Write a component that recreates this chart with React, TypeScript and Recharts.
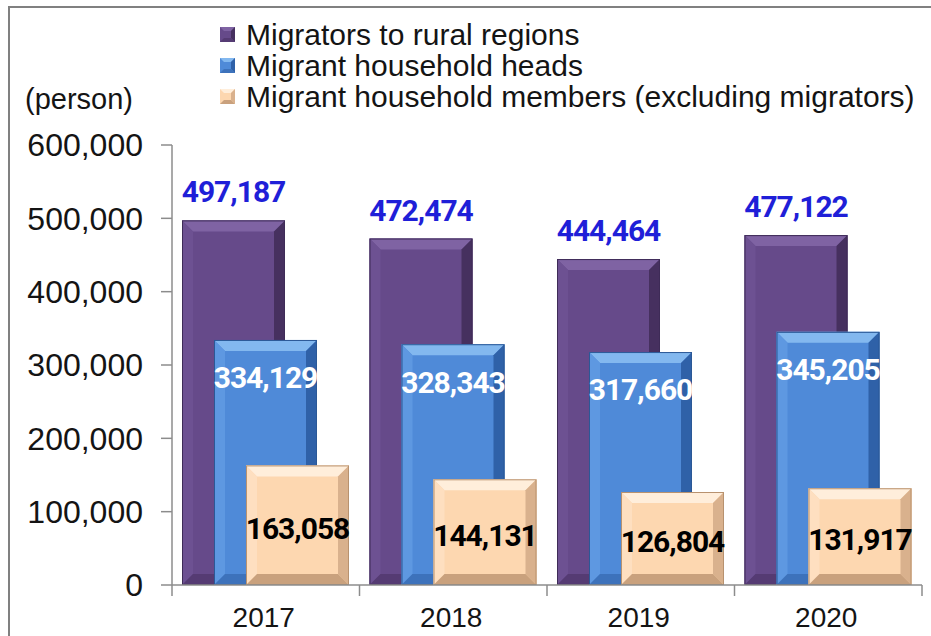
import { BarChart, Bar, XAxis, YAxis, Legend, LabelList, Label } from 'recharts';

const years = ['2017', '2018', '2019', '2020'];
const migrators = [497187, 472474, 444464, 477122];
const householdHeads = [334129, 328343, 317660, 345205];
const householdMembers = [163058, 144131, 126804, 131917];
const yTicks = [0, 100000, 200000, 300000, 400000, 500000, 600000];
const seriesNames = [
  'Migrators to rural regions',
  'Migrant household heads',
  'Migrant household members (excluding migrators)',
];

const data = years.map((year, i) => ({
  year,
  migrators: migrators[i],
  heads: householdHeads[i],
  members: householdMembers[i],
}));

const FONT = '"Liberation Sans", Arial, sans-serif';
const LABEL_FONT = 'Roboto, "Liberation Sans", sans-serif';
const AXIS = '#8c8c8c';
const TEXT = '#141414';

type Palette = { face: string; top: string; left: string; right: string; bottom: string; edge: string };

const purple: Palette = { face: '#664a8a', top: '#7f63a3', left: '#6d5192', right: '#46305f', bottom: '#553b73', edge: '#3e2b57' };
const blue: Palette = { face: '#4f8ad8', top: '#83b8ef', left: '#5e98e1', right: '#2f61a8', bottom: '#3d72bb', edge: '#2b5896' };
const peach: Palette = { face: '#fdd7b0', top: '#ffeedb', left: '#fedfc0', right: '#d9b18d', bottom: '#c9a17d', edge: '#b8926f' };
const palettes = [purple, blue, peach];

const fmt = (v: any) => Number(v).toLocaleString('en-US');

function bevelShape(p: Palette, b = 11) {
  return (props: any) => {
    const { x, y, width: w, height: h } = props;
    if (!h || h <= 0) return <g />;
    const d = Math.min(b, w / 4, h / 4);
    return (
      <g>
        <rect x={x} y={y} width={w} height={h} fill={p.face} />
        <polygon points={`${x},${y} ${x + w},${y} ${x + w - d},${y + d} ${x + d},${y + d}`} fill={p.top} />
        <polygon points={`${x},${y} ${x + d},${y + d} ${x + d},${y + h - d} ${x},${y + h}`} fill={p.left} />
        <polygon points={`${x + w},${y} ${x + w},${y + h} ${x + w - d},${y + h - d} ${x + w - d},${y + d}`} fill={p.right} />
        <polygon points={`${x},${y + h} ${x + d},${y + h - d} ${x + w - d},${y + h - d} ${x + w},${y + h}`} fill={p.bottom} />
        <rect x={x + 0.5} y={y + 0.5} width={w - 1} height={h - 1} fill="none" stroke={p.edge} strokeWidth={1} />
      </g>
    );
  };
}

function LegendSwatch({ p }: { p: Palette }) {
  const s = 15;
  const d = 4;
  return (
    <svg width={s} height={s} style={{ marginRight: 11, flex: 'none' }}>
      <rect x={0} y={0} width={s} height={s} fill={p.face} />
      <polygon points={`0,0 ${s},0 ${s - d},${d} ${d},${d}`} fill={p.top} />
      <polygon points={`${s},0 ${s},${s} ${s - d},${s - d} ${s - d},${d}`} fill={p.right} />
      <polygon points={`0,${s} ${d},${s - d} ${s - d},${s - d} ${s},${s}`} fill={p.bottom} />
    </svg>
  );
}

const renderLegend = () => (
  <div style={{ fontFamily: FONT, fontSize: 30, lineHeight: '31px', color: TEXT }}>
    {seriesNames.map((name, i) => (
      <div key={name} style={{ display: 'flex', alignItems: 'center', whiteSpace: 'nowrap' }}>
        <LegendSwatch p={palettes[i]} />
        <span>{name}</span>
      </div>
    ))}
  </div>
);

const XTick = (props: any) => {
  const { x, y, payload } = props;
  const half = payload && payload.offset ? payload.offset : 93.75;
  const last = payload.value === years[years.length - 1];
  return (
    <g>
      <line x1={x - half} x2={x - half} y1={y} y2={y + 11} stroke={AXIS} strokeWidth={1.5} />
      {last && <line x1={x + half} x2={x + half} y1={y} y2={y + 11} stroke={AXIS} strokeWidth={1.5} />}
      <text x={x - 2} y={y + 42} textAnchor="middle" fontSize={28} fontFamily={FONT} fill={TEXT}>
        {payload.value}
      </text>
    </g>
  );
};

const labelStyle = { letterSpacing: '-1px' };

export default function App() {
  return (
    <div style={{ position: 'absolute', left: 0, top: 0, width: 931, height: 636, overflow: 'hidden', background: '#fff', fontFamily: FONT }}>
      <div style={{ position: 'absolute', left: 8, top: 6, width: 1000, height: 1000, border: '2px solid #808080' }} />
      <div style={{ position: 'absolute', left: 0, top: 0 }}>
        <BarChart
          width={931}
          height={636}
          data={data}
          margin={{ top: 145, right: 9, bottom: 0, left: 0 }}
          barSize={103}
          barGap={-71}
        >
          <XAxis
            dataKey="year"
            height={51}
            stroke={AXIS}
            strokeWidth={1.5}
            tickLine={false}
            tickSize={0}
            tickMargin={0}
            tick={<XTick />}
            interval={0}
          />
          <YAxis
            width={172}
            domain={[0, 600000]}
            ticks={yTicks}
            tickFormatter={fmt}
            stroke={AXIS}
            strokeWidth={1.5}
            tickSize={11}
            tickMargin={18}
            tick={{ fontSize: 32, fill: TEXT, fontFamily: FONT }}
            interval={0}
          >
            <Label
              content={() => (
                <text x={25} y={109} fontSize={29} fontFamily={FONT} fill={TEXT}>
                  (person)
                </text>
              )}
            />
          </YAxis>
          <Legend
            layout="vertical"
            align="center"
            verticalAlign="middle"
            content={renderLegend}
            wrapperStyle={{ top: 19, left: 220, width: 711 }}
          />
          <Bar dataKey="migrators" name={seriesNames[0]} fill={purple.face} shape={bevelShape(purple)} isAnimationActive={false}>
            <LabelList
              dataKey="migrators"
              position="top"
              offset={18}
              formatter={fmt}
              fill="#1f1fd8"
              fontSize={30}
              fontWeight="bold"
              fontFamily={LABEL_FONT}
              style={labelStyle}
            />
          </Bar>
          <Bar dataKey="heads" name={seriesNames[1]} fill={blue.face} shape={bevelShape(blue)} isAnimationActive={false}>
            <LabelList
              dataKey="heads"
              position="insideTop"
              offset={27}
              formatter={fmt}
              fill="#ffffff"
              fontSize={30}
              fontWeight="bold"
              fontFamily={LABEL_FONT}
              style={labelStyle}
            />
          </Bar>
          <Bar dataKey="members" name={seriesNames[2]} fill={peach.face} shape={bevelShape(peach)} isAnimationActive={false}>
            <LabelList
              dataKey="members"
              position="center"
              dy={3}
              formatter={fmt}
              fill="#000000"
              fontSize={30}
              fontWeight="bold"
              fontFamily={LABEL_FONT}
              style={labelStyle}
            />
          </Bar>
        </BarChart>
      </div>
    </div>
  );
}
